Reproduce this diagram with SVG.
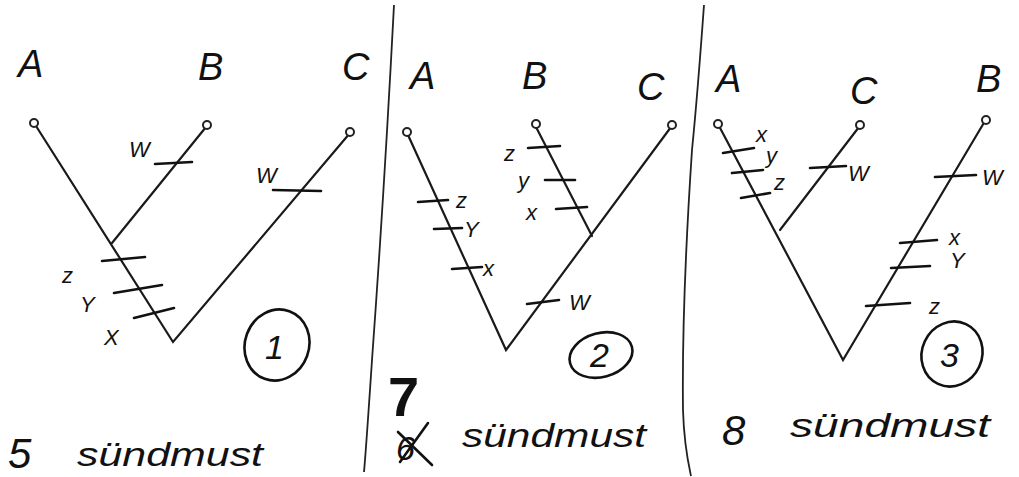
<svg xmlns="http://www.w3.org/2000/svg" width="1019" height="477" viewBox="0 0 1019 477">
<style>
.bg{fill:#ffffff}
.br{stroke:#1a1a1a;stroke-width:2.2;fill:none;stroke-linecap:round}
.tk{stroke:#111;stroke-width:2.6;fill:none;stroke-linecap:round}
.dv{stroke:#222;stroke-width:1.8;fill:none}
.tip{fill:#fff;stroke:#222;stroke-width:2}
.lab{font-family:"Liberation Sans",Arial,sans-serif;font-size:38px;fill:#111;font-style:italic;font-weight:normal}
.sm{font-family:"Liberation Sans",Arial,sans-serif;font-size:22px;fill:#111;font-style:italic}
.num{font-family:"Liberation Sans",Arial,sans-serif;font-size:34px;fill:#111;font-style:italic}
.cnt{font-family:"Liberation Sans",Arial,sans-serif;font-size:34px;fill:#111;font-style:italic}
.big{font-family:"Liberation Sans",Arial,sans-serif;font-size:42px;fill:#111;font-style:italic}
.ring{fill:none;stroke:#111;stroke-width:2.6}
</style>
<rect class="bg" x="0" y="0" width="1019" height="477"/>

<g id="dividers">
<path class="dv" d="M394,5 C388,120 380,250 372,360 C368,420 366,450 364,472"/>
<path class="dv" d="M704,5 C700,60 696,110 692,150 C686,240 682,330 683,410 C684,445 688,462 691,476"/>
</g>

<g id="connectors">
<path class="br" d="M36,126 L173,342 L350,133"/>
<path class="br" d="M206,127 L112,243"/>
<path class="br" d="M408,135 L506,350 L671,127"/>
<path class="br" d="M536,127 L592,236"/>
<path class="br" d="M719,126 L843,360 L985,121"/>
<path class="br" d="M859,127 L780,230"/>
</g>

<g id="p1-A"><circle class="tip" cx="34" cy="123" r="4"/><text class="lab" x="18" y="77">A</text></g>
<g id="p1-B"><circle class="tip" cx="207" cy="125" r="4"/><text class="lab" x="198" y="80">B</text></g>
<g id="p1-C"><circle class="tip" cx="350" cy="132" r="4"/><text class="lab" x="342" y="80">C</text></g>
<g id="p1-ticks">
<line class="tk" x1="155" y1="164" x2="192" y2="162"/><text class="sm" x="129" y="157">W</text>
<line class="tk" x1="273" y1="190" x2="321" y2="191"/><text class="sm" x="256" y="183">W</text>
<line class="tk" x1="102" y1="261" x2="145" y2="257"/><text class="sm" x="62" y="283">z</text>
<line class="tk" x1="114" y1="293" x2="162" y2="285"/><text class="sm" x="80" y="312">Y</text>
<line class="tk" x1="134" y1="318" x2="174" y2="308"/><text class="sm" x="104" y="345">X</text>
</g>
<g id="p1-num"><ellipse class="ring" cx="277" cy="345" rx="32" ry="36" transform="rotate(20 277 345)"/><text class="num" x="265" y="359">1</text></g>
<g id="p1-count"><text class="big" x="8" y="468">5</text><text class="cnt" x="77" y="466" textLength="186" lengthAdjust="spacingAndGlyphs">sündmust</text></g>

<g id="p2-A"><circle class="tip" cx="407" cy="132" r="4"/><text class="lab" x="410" y="89">A</text></g>
<g id="p2-B"><circle class="tip" cx="536" cy="124" r="4"/><text class="lab" x="522" y="89">B</text></g>
<g id="p2-C"><circle class="tip" cx="672" cy="125" r="4"/><text class="lab" x="637" y="100">C</text></g>
<g id="p2-ticks">
<line class="tk" x1="418" y1="202" x2="448" y2="200"/><text class="sm" x="456" y="208">z</text>
<line class="tk" x1="434" y1="229" x2="462" y2="228"/><text class="sm" x="464" y="237">Y</text>
<line class="tk" x1="452" y1="269" x2="482" y2="267"/><text class="sm" x="483" y="276">x</text>
<line class="tk" x1="528" y1="148" x2="560" y2="146"/><text class="sm" x="504" y="161">z</text>
<line class="tk" x1="545" y1="180" x2="575" y2="180"/><text class="sm" x="518" y="188">y</text>
<line class="tk" x1="556" y1="209" x2="587" y2="207"/><text class="sm" x="526" y="220">x</text>
<line class="tk" x1="527" y1="304" x2="559" y2="300"/><text class="sm" x="569" y="310">W</text>
</g>
<g id="p2-num"><ellipse class="ring" cx="601" cy="355" rx="32" ry="22" transform="rotate(-15 601 355)"/><text class="num" x="590" y="367">2</text></g>
<g id="p2-count">
<text x="388" y="416" style="font-family:'Liberation Sans',Arial,sans-serif;font-size:56px;font-weight:bold;fill:#111">7</text>
<text class="cnt" x="396" y="460">6</text>
<line class="tk" x1="398" y1="432" x2="432" y2="465"/>
<line class="tk" x1="400" y1="462" x2="428" y2="423"/>
<text class="cnt" x="462" y="447" textLength="184" lengthAdjust="spacingAndGlyphs">sündmust</text>
</g>

<g id="p3-A"><circle class="tip" cx="718" cy="124" r="4"/><text class="lab" x="716" y="92">A</text></g>
<g id="p3-C"><circle class="tip" cx="860" cy="125" r="4"/><text class="lab" x="850" y="104">C</text></g>
<g id="p3-B"><circle class="tip" cx="986" cy="120" r="4"/><text class="lab" x="976" y="92">B</text></g>
<g id="p3-ticks">
<line class="tk" x1="723" y1="153" x2="754" y2="148"/><text class="sm" x="756" y="142">x</text>
<line class="tk" x1="732" y1="173" x2="763" y2="170"/><text class="sm" x="766" y="163">y</text>
<line class="tk" x1="741" y1="198" x2="770" y2="193"/><text class="sm" x="774" y="190">z</text>
<line class="tk" x1="810" y1="168" x2="846" y2="166"/><text class="sm" x="848" y="181">W</text>
<line class="tk" x1="935" y1="177" x2="976" y2="175"/><text class="sm" x="982" y="185">W</text>
<line class="tk" x1="900" y1="243" x2="937" y2="240"/><text class="sm" x="949" y="245">x</text>
<line class="tk" x1="891" y1="268" x2="930" y2="266"/><text class="sm" x="950" y="268">Y</text>
<line class="tk" x1="866" y1="306" x2="910" y2="303"/><text class="sm" x="929" y="314">z</text>
</g>
<g id="p3-num"><ellipse class="ring" cx="952" cy="354" rx="30" ry="33" transform="rotate(25 952 354)"/><text class="num" x="940" y="367">3</text></g>
<g id="p3-count"><text class="big" x="722" y="445">8</text><text class="cnt" x="790" y="437" textLength="200" lengthAdjust="spacingAndGlyphs">sündmust</text></g>
</svg>
